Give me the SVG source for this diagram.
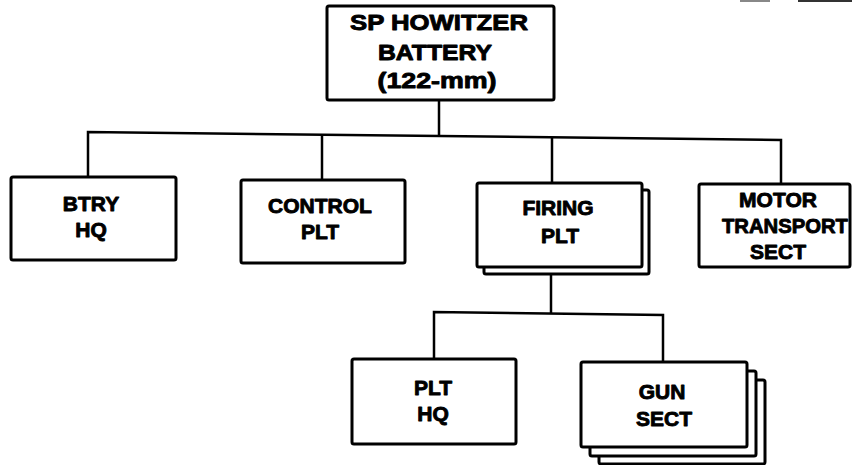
<svg xmlns="http://www.w3.org/2000/svg" width="852" height="465" viewBox="0 0 852 465">
<style>
.box{fill:#fff;stroke:#000;stroke-width:3}
.t{font-family:"Liberation Sans",Arial,sans-serif;font-weight:bold;font-size:21px;text-anchor:middle;fill:#000;stroke:#000;stroke-width:0.9;stroke-linejoin:round}
.tt{font-family:"Liberation Sans",Arial,sans-serif;font-weight:bold;font-size:22px;text-anchor:middle;fill:#000;stroke:#000;stroke-width:0.9;stroke-linejoin:round}
.c{fill:none;stroke:#000;stroke-width:2.5}
</style>
<rect width="852" height="465" fill="#fff"/>
<line x1="740" y1="1" x2="770" y2="1" stroke="#888" stroke-width="2"/>
<line x1="798" y1="1" x2="852" y2="1" stroke="#333" stroke-width="2"/>
<g id="connectors">
<path class="c" d="M439,100 V136"/>
<path class="c" d="M88,177 V132 L781,140 V184"/>
<path class="c" d="M322,135 V180"/>
<path class="c" d="M552,137 V183"/>
<path class="c" d="M551,274 V313"/>
<path class="c" d="M434,359 V312 L663,315 V362"/>
</g>
<g id="battery">
<rect class="box" x="327" y="6" width="227" height="94" rx="2"/>
<text class="tt" x="439" y="30" textLength="178" lengthAdjust="spacingAndGlyphs">SP HOWITZER</text>
<text class="tt" x="435" y="60" textLength="114" lengthAdjust="spacingAndGlyphs">BATTERY</text>
<text class="tt" x="437" y="88" textLength="119" lengthAdjust="spacingAndGlyphs">(122-mm)</text>
</g>
<g id="btry-hq">
<rect class="box" x="11" y="177" width="165" height="83" rx="2"/>
<text class="t" x="91" y="211">BTRY</text>
<text class="t" x="91" y="237">HQ</text>
</g>
<g id="control-plt">
<rect class="box" x="241" y="180" width="164" height="83" rx="2"/>
<text class="t" x="320" y="213">CONTROL</text>
<text class="t" x="320" y="239">PLT</text>
</g>
<g id="firing-plt">
<rect class="box" x="484" y="190" width="165" height="84" rx="2"/>
<rect class="box" x="477" y="183" width="165" height="84" rx="2"/>
<text class="t" x="558" y="215">FIRING</text>
<text class="t" x="560" y="243">PLT</text>
</g>
<g id="motor-transport-sect">
<rect class="box" x="699" y="184" width="151" height="83" rx="2"/>
<text class="t" x="778" y="207">MOTOR</text>
<text class="t" x="785" y="233" textLength="126" lengthAdjust="spacingAndGlyphs">TRANSPORT</text>
<text class="t" x="778" y="259">SECT</text>
</g>
<g id="plt-hq">
<rect class="box" x="352" y="359" width="164" height="85" rx="2"/>
<text class="t" x="433" y="395">PLT</text>
<text class="t" x="433" y="421">HQ</text>
</g>
<g id="gun-sect">
<rect class="box" x="599" y="380" width="166" height="84" rx="2"/>
<rect class="box" x="590" y="371" width="166" height="85" rx="2"/>
<rect class="box" x="581" y="362" width="166" height="85" rx="2"/>
<text class="t" x="662" y="399">GUN</text>
<text class="t" x="664" y="426">SECT</text>
</g>
</svg>
